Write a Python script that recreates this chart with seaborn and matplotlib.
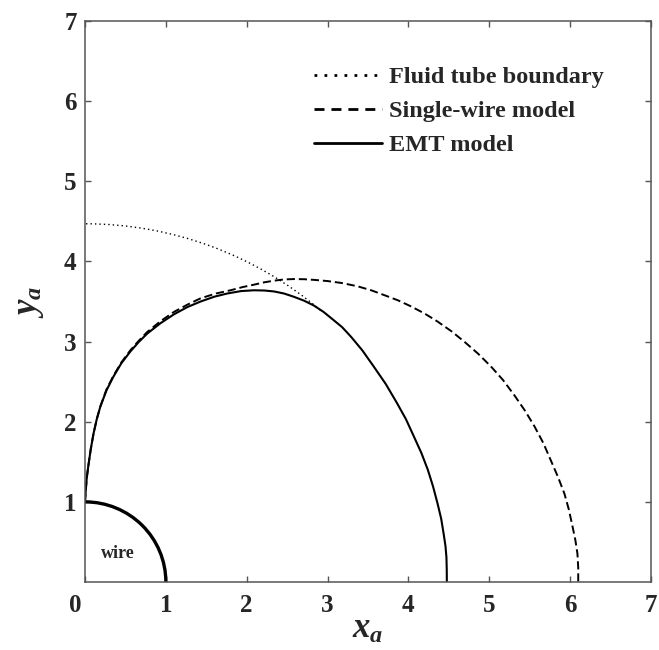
import numpy as np
import pandas as pd
import matplotlib
matplotlib.use("Agg")
import matplotlib.pyplot as plt
from matplotlib.patches import Arc
from matplotlib.lines import Line2D
import matplotlib.transforms as mtransforms
import seaborn as sns

# ---- data -------------------------------------------------------------
# EMT model streamline (x_a, y_a)
emt_x = [0.000, 0.010, 0.022, 0.040, 0.070, 0.105, 0.145, 0.190, 0.265,
         0.350, 0.450, 0.560, 0.665, 0.770, 0.935, 1.100, 1.265, 1.430,
         1.600, 1.760, 1.930, 2.090, 2.220, 2.340, 2.460, 2.580, 2.710,
         2.830, 2.950, 3.060, 3.180, 3.290, 3.430, 3.570, 3.720, 3.860,
         3.970, 4.070, 4.160, 4.240, 4.305, 4.360, 4.405, 4.435, 4.458,
         4.470, 4.474, 4.475]
emt_y = [1.00, 1.15, 1.30, 1.44, 1.65, 1.85, 2.03, 2.19, 2.39,
         2.56, 2.73, 2.875, 2.995, 3.10, 3.23, 3.34, 3.43, 3.50,
         3.56, 3.60, 3.63, 3.64, 3.637, 3.625, 3.60, 3.56, 3.51,
         3.45, 3.37, 3.28, 3.18, 3.06, 2.89, 2.69, 2.47, 2.23,
         2.03, 1.81, 1.61, 1.40, 1.19, 0.98, 0.79, 0.605, 0.45,
         0.31, 0.15, 0.00]

# Single-wire model streamline (x_a, y_a)
single_x = [0.000, 0.010, 0.022, 0.040, 0.070, 0.105, 0.145, 0.190, 0.265,
            0.350, 0.450, 0.560, 0.665, 0.770, 0.935, 1.100, 1.265, 1.430,
            1.620, 1.800, 1.950, 2.090, 2.220, 2.340, 2.460, 2.580, 2.710,
            2.830, 3.000, 3.180, 3.370, 3.540, 3.700, 3.870, 4.030, 4.200,
            4.360, 4.530, 4.690, 4.860, 5.020, 5.170, 5.310, 5.440, 5.560,
            5.670, 5.760, 5.850, 5.930, 5.985, 6.030, 6.065, 6.090, 6.100,
            6.100]
single_y = [1.00, 1.15, 1.30, 1.44, 1.65, 1.85, 2.03, 2.19, 2.40,
            2.57, 2.74, 2.89, 3.01, 3.12, 3.255, 3.37, 3.46, 3.54,
            3.60, 3.64, 3.68, 3.71, 3.74, 3.76, 3.775, 3.78, 3.778,
            3.77, 3.755, 3.73, 3.69, 3.64, 3.58, 3.515, 3.44, 3.35,
            3.25, 3.13, 3.00, 2.85, 2.69, 2.52, 2.33, 2.14, 1.94,
            1.73, 1.52, 1.31, 1.10, 0.90, 0.69, 0.52, 0.355, 0.18,
            0.00]

# Fluid tube boundary: circular arc of this radius, from this angle up to 90 deg
tube_radius = 4.47
tube_start_deg = 49.4

# Wire cross-section radius
wire_radius = 1.0

x_ticks = [0, 1, 2, 3, 4, 5, 6, 7]
y_ticks = [1, 2, 3, 4, 5, 6, 7]

legend_labels = ["Fluid tube boundary", "Single-wire model", "EMT model"]

# ---- style ------------------------------------------------------------
sns.set_style("ticks")
plt.rcParams.update({
    "font.family": ["Liberation Serif", "DejaVu Serif"],
    "font.weight": "bold",
    "mathtext.fontset": "custom",
    "mathtext.it": "Liberation Serif:italic:bold",
    "mathtext.rm": "Liberation Serif:bold",
    "axes.edgecolor": "#555555",
    "axes.linewidth": 1.1,
})

fig = plt.figure(figsize=(6.59, 6.50), dpi=100)
ax = fig.add_axes([85 / 659, 68 / 650, 566 / 659, 561 / 650])

emt_df = pd.DataFrame({"x": emt_x, "y": emt_y})
single_df = pd.DataFrame({"x": single_x, "y": single_y})

sns.lineplot(data=single_df, x="x", y="y", sort=False, estimator=None,
             color="black", lw=1.4, ax=ax, dashes=False,
             linestyle=(0, (4.2, 2.0)))
sns.lineplot(data=emt_df, x="x", y="y", sort=False, estimator=None,
             color="black", lw=1.5, ax=ax)

ax.add_patch(Arc((0, 0), 2 * tube_radius, 2 * tube_radius,
                 theta1=tube_start_deg, theta2=90, color="black",
                 lw=1.0, linestyle=(0, (1, 2.2))))
ax.add_patch(Arc((0, 0), 2 * wire_radius, 2 * wire_radius,
                 theta1=0, theta2=90, color="black", lw=2.4))

ax.text(0.40, 0.36, "wire", fontsize=13, fontweight="bold",
        ha="center", va="center")

ax.set_xlim(0, 7)
ax.set_ylim(0, 7)
ax.set_xticks(x_ticks)
ax.set_yticks(y_ticks)
ax.tick_params(axis="both", which="both", direction="in", length=4,
               width=1, color="#555555", labelsize=18, top=True, right=True)
ax.tick_params(axis="x", pad=9)
ax.tick_params(axis="y", pad=6)
for lab in ax.get_xticklabels() + ax.get_yticklabels():
    lab.set_fontweight("bold")
# nudge the origin label so it sits at the corner
zero_lab = ax.get_xticklabels()[0]
zero_lab.set_transform(zero_lab.get_transform() +
                       mtransforms.ScaledTranslation(-10 / 100, 0,
                                                     fig.dpi_scale_trans))

ax.set_xlabel(r"$x_a$", fontsize=25, labelpad=-3)
ax.set_ylabel(r"$y_a$", fontsize=25, labelpad=13)

handles = [
    Line2D([], [], color="black", lw=2.0, linestyle=(0, (1, 2.6))),
    Line2D([], [], color="black", lw=2.0, linestyle=(0, (3.6, 2.5))),
    Line2D([], [], color="black", lw=2.0),
]
ax.legend(handles, legend_labels, loc="upper left",
          bbox_to_anchor=(314 / 659, (650 - 66) / 650),
          bbox_transform=fig.transFigure, frameon=False,
          prop={"family": "Liberation Serif", "weight": "bold", "size": 17.5},
          handlelength=2.8, handletextpad=0.3, labelspacing=0.5,
          borderpad=0, borderaxespad=0)

fig.savefig("out.png", dpi=100)
